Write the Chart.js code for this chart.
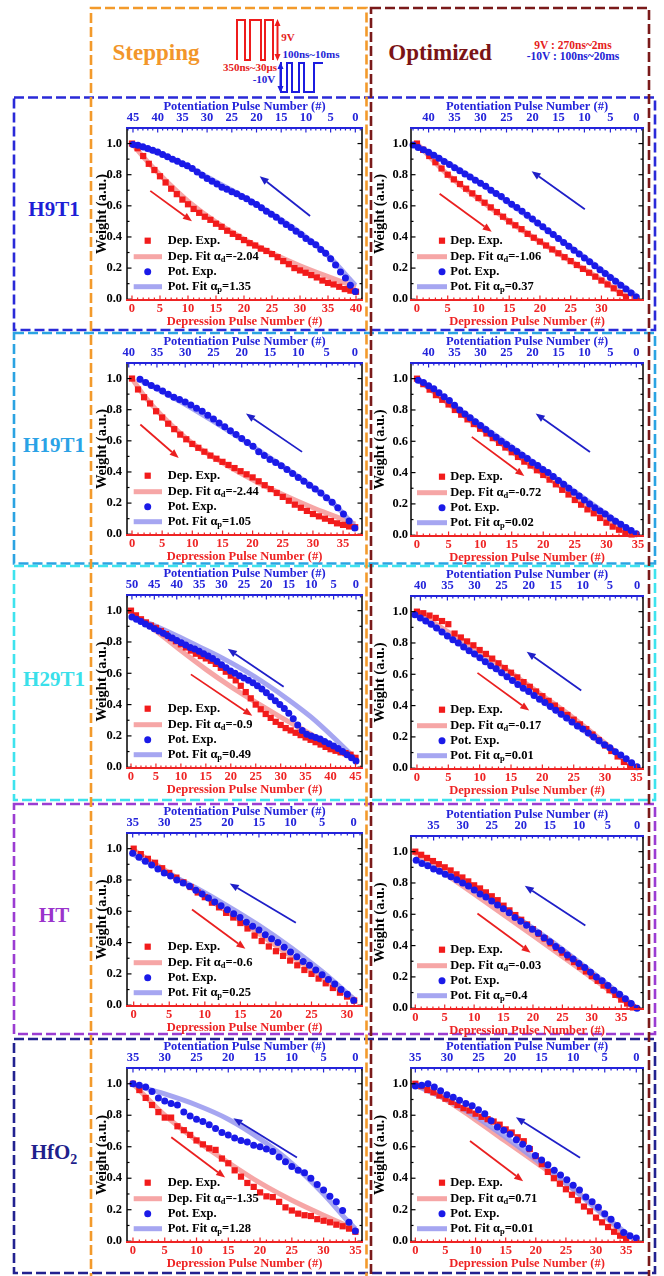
<!DOCTYPE html>
<html><head><meta charset="utf-8">
<script src="https://cdn.jsdelivr.net/npm/chart.js@4.4.0/dist/chart.umd.min.js"></script>
<style>
html,body{margin:0;padding:0;background:#fff;}
#page{position:relative;width:664px;height:1276px;overflow:hidden;background:#fff;font-family:'Liberation Serif','Times New Roman',serif;font-weight:bold;}
.t{position:absolute;transform:translate(-50%,-50%);white-space:nowrap;line-height:1;}
.cw{position:absolute;}
</style></head><body>
<div id="page">
<svg width="664" height="1276" style="position:absolute;left:0;top:0" fill="none">
 <g stroke-width="2.6" stroke-dasharray="10 4">
  <rect x="14" y="97.5" width="641" height="232.5" stroke="#2a2ad8"/>
  <rect x="14" y="333" width="641" height="230.5" stroke="#2ba3e2"/>
  <rect x="14" y="566" width="641" height="234" stroke="#3ee3ee"/>
  <rect x="14" y="804" width="641" height="230" stroke="#9b3cd2"/>
  <rect x="14" y="1039" width="641" height="234" stroke="#222290"/>
  <rect x="91" y="8" width="275.5" height="1300" stroke="#f39a2b"/>
  <rect x="371" y="8" width="278" height="1300" stroke="#7a1a1a"/>
 </g>
 <g stroke-width="2">
  <path d="M237,60 V20 H245 V60 H250 V20 H261 V60 H265 V20 H273 V60" stroke="#ee1c1c"/>
  <path d="M277.5,24 V56" stroke="#ee1c1c"/>
  <path d="M281,62 V92 H287 V63 H292 V92 H299 V63 H304 V92 H314 V63 H323" stroke="#1c1ce0"/>
  <path d="M280.5,67 V88" stroke="#1c1ce0"/>
 </g>
 <path d="M277.5,19 L274.5,26 L280.5,26 Z M277.5,61 L274.5,54 L280.5,54 Z" fill="#ee1c1c"/>
 <path d="M280.5,62 L277.5,69 L283.5,69 Z M280.5,93 L277.5,86 L283.5,86 Z" fill="#1c1ce0"/>
</svg>
<div class="t" style="left:156px;top:52px;font-size:23px;color:#f2962a">Stepping</div>
<div class="t" style="left:440px;top:52px;font-size:23px;color:#7b1416">Optimized</div>
<div class="t" style="left:573px;top:46px;font-size:11.5px;color:#e52020">9V : 270ns~2ms</div>
<div class="t" style="left:573px;top:57px;font-size:11.5px;color:#2323d5">-10V : 100ns~20ms</div>
<div class="t" style="left:288px;top:37px;font-size:11px;color:#e52020">9V</div>
<div class="t" style="left:311px;top:54px;font-size:11px;color:#2323d5">100ns~10ms</div>
<div class="t" style="left:250px;top:67px;font-size:11px;color:#e52020">350ns~30μs</div>
<div class="t" style="left:264px;top:79px;font-size:11px;color:#2323d5">-10V</div>
<div class="t" style="left:54px;top:209px;font-size:21px;color:#1e1ed6">H9T1</div>
<div class="t" style="left:54px;top:445px;font-size:21px;color:#2aa2e6">H19T1</div>
<div class="t" style="left:54px;top:679px;font-size:21px;color:#3ae0ea">H29T1</div>
<div class="t" style="left:54px;top:915px;font-size:21px;color:#9a33cc">HT</div>
<div class="t" style="left:54px;top:1152px;font-size:21px;color:#1f1f8c">HfO<span style="font-size:14px;position:relative;top:5px">2</span></div>
</div>
<script>
// ---------- tick label arrays ----------
const yTicks = [0, 0.2, 0.4, 0.6, 0.8, 1.0];
const ticksTo30 = [0, 5, 10, 15, 20, 25, 30];
const ticksTo35 = [0, 5, 10, 15, 20, 25, 30, 35];
const ticksTo40 = [0, 5, 10, 15, 20, 25, 30, 35, 40];
const ticksTo45 = [0, 5, 10, 15, 20, 25, 30, 35, 40, 45];
const ticksTo50 = [0, 5, 10, 15, 20, 25, 30, 35, 40, 45, 50];

// ---------- H9T1 ----------
const h9t1StepDep = [1.00,0.97,0.92,0.87,0.83,0.79,0.75,0.71,0.675,0.64,0.61,0.58,0.555,0.53,0.51,0.485,0.465,0.44,0.42,0.40,0.38,0.36,0.345,0.325,0.31,0.29,0.27,0.245,0.225,0.20,0.185,0.17,0.155,0.14,0.12,0.105,0.095,0.08,0.065,0.055,0.048];
const h9t1StepPot = [0.05,0.09,0.137,0.175,0.22,0.26,0.295,0.32,0.35,0.37,0.39,0.415,0.437,0.46,0.48,0.503,0.527,0.546,0.565,0.587,0.608,0.625,0.645,0.66,0.677,0.69,0.707,0.72,0.74,0.758,0.775,0.797,0.818,0.84,0.857,0.87,0.887,0.90,0.916,0.93,0.946,0.957,0.968,0.979,0.989,0.994];
const h9t1StepDepFit = [[0,1.0],[2,0.915],[5,0.80],[8,0.695],[10,0.63],[15,0.495],[20,0.385],[25,0.295],[30,0.215],[35,0.145],[38,0.105],[40,0.08]];
const h9t1StepPotFit = [[0,0.09],[2,0.16],[5,0.265],[10,0.40],[15,0.51],[20,0.61],[25,0.70],[30,0.785],[35,0.87],[40,0.94],[45,0.99]];
const h9t1StepArrows = [[3.27,0.696,10.71,0.501],[31.8,0.535,22.8,0.79]];
const h9t1StepAlpha = ['-2.04','1.35'];

const h9t1OptDep = [1.00,0.96,0.92,0.88,0.84,0.80,0.77,0.74,0.71,0.68,0.65,0.62,0.59,0.56,0.53,0.50,0.475,0.45,0.42,0.395,0.37,0.345,0.32,0.295,0.27,0.245,0.22,0.195,0.17,0.145,0.12,0.095,0.07,0.04,0.015];
const h9t1OptPot = [0.015,0.04,0.065,0.09,0.115,0.14,0.165,0.19,0.215,0.24,0.265,0.29,0.315,0.34,0.365,0.39,0.415,0.44,0.465,0.49,0.515,0.54,0.565,0.59,0.61,0.635,0.66,0.68,0.70,0.725,0.745,0.765,0.785,0.805,0.825,0.845,0.865,0.885,0.905,0.925,0.945,0.96,0.975,0.99];
const h9t1OptDepFit = [[0,1.0],[5,0.80],[10,0.645],[15,0.50],[20,0.37],[25,0.245],[30,0.125],[34,0.02]];
const h9t1OptPotFit = [[0,0.02],[5,0.145],[10,0.27],[15,0.39],[20,0.51],[25,0.63],[30,0.745],[35,0.85],[40,0.945],[43,0.99]];
const h9t1OptArrows = [[3.68,0.677,12.16,0.433],[27.3,0.578,18.65,0.822]];
const h9t1OptAlpha = ['-1.06','0.37'];

// ---------- H19T1 ----------
const h19t1StepDep = [1.00,0.93,0.88,0.84,0.79,0.75,0.71,0.675,0.64,0.61,0.58,0.555,0.53,0.505,0.485,0.465,0.445,0.425,0.405,0.385,0.365,0.34,0.315,0.29,0.265,0.24,0.215,0.19,0.17,0.15,0.13,0.115,0.10,0.085,0.07,0.06,0.05,0.045];
const h19t1StepPot = [0.04,0.085,0.13,0.17,0.205,0.235,0.265,0.29,0.315,0.34,0.365,0.39,0.415,0.44,0.46,0.48,0.505,0.53,0.565,0.59,0.615,0.64,0.665,0.69,0.715,0.74,0.765,0.79,0.81,0.83,0.85,0.865,0.88,0.90,0.92,0.94,0.955,0.975,0.995];
const h19t1StepDepFit = [[0,1.0],[2,0.89],[5,0.76],[10,0.585],[15,0.46],[20,0.35],[25,0.255],[30,0.17],[34,0.11],[37,0.065]];
const h19t1StepPotFit = [[0,0.05],[3,0.17],[5,0.235],[10,0.37],[15,0.49],[20,0.61],[25,0.725],[30,0.835],[35,0.935],[38,0.99]];
const h19t1StepArrows = [[1.38,0.705,7.74,0.49],[28.2,0.529,18.9,0.775]];
const h19t1StepAlpha = ['-2.44','1.05'];

const h19t1OptDep = [1.0,0.965,0.93,0.895,0.865,0.835,0.80,0.77,0.74,0.71,0.68,0.65,0.62,0.59,0.56,0.53,0.50,0.47,0.445,0.415,0.385,0.355,0.325,0.29,0.26,0.225,0.195,0.165,0.14,0.11,0.08,0.055,0.035,0.015,0.005];
const h19t1OptPot = [0.01,0.03,0.05,0.07,0.09,0.11,0.135,0.155,0.175,0.20,0.225,0.25,0.275,0.30,0.325,0.35,0.375,0.40,0.42,0.445,0.465,0.49,0.51,0.535,0.555,0.58,0.60,0.625,0.65,0.675,0.70,0.725,0.75,0.775,0.80,0.83,0.86,0.885,0.91,0.935,0.955,0.975,0.99];
const h19t1OptDepFit = [[0,1.0],[5,0.84],[10,0.685],[15,0.535],[20,0.39],[25,0.245],[30,0.105],[34,0.0]];
const h19t1OptPotFit = [[0,0.0],[10,0.235],[20,0.47],[30,0.705],[42,0.99]];
const h19t1OptArrows = [[8.68,0.628,17.0,0.379],[27.4,0.532,18.8,0.777]];
const h19t1OptAlpha = ['-0.72','0.02'];

// ---------- H29T1 ----------
const h29t1StepDep = [1.00,0.97,0.945,0.925,0.905,0.89,0.87,0.85,0.825,0.805,0.785,0.765,0.745,0.725,0.71,0.695,0.68,0.66,0.635,0.61,0.585,0.555,0.52,0.48,0.44,0.40,0.37,0.34,0.315,0.29,0.27,0.25,0.235,0.22,0.205,0.19,0.175,0.16,0.145,0.13,0.115,0.105,0.095,0.09,0.08,0.06];
const h29t1StepPot = [0.04,0.06,0.08,0.10,0.12,0.135,0.15,0.165,0.18,0.19,0.20,0.21,0.235,0.27,0.31,0.345,0.375,0.40,0.425,0.45,0.475,0.50,0.52,0.54,0.555,0.57,0.585,0.60,0.615,0.635,0.655,0.675,0.695,0.71,0.725,0.74,0.755,0.765,0.78,0.795,0.81,0.825,0.84,0.855,0.87,0.885,0.90,0.915,0.93,0.945,0.96];
const h29t1StepDepFit = [[0,0.98],[5,0.87],[10,0.745],[15,0.625],[20,0.515],[25,0.415],[30,0.32],[35,0.23],[40,0.14],[45,0.06]];
const h29t1StepPotFit = [[0,0.05],[5,0.19],[10,0.32],[15,0.43],[20,0.53],[25,0.62],[30,0.70],[35,0.77],[40,0.84],[45,0.905],[50,0.965]];
const h29t1StepArrows = [[12.0,0.593,24.3,0.328],[30.6,0.514,19.4,0.756]];
const h29t1StepAlpha = ['-0.9','0.49'];

const h29t1OptDep = [1.0,0.99,0.975,0.96,0.94,0.92,0.86,0.835,0.81,0.785,0.755,0.73,0.70,0.67,0.64,0.61,0.58,0.55,0.52,0.49,0.46,0.43,0.40,0.37,0.34,0.31,0.28,0.25,0.215,0.18,0.145,0.11,0.075,0.04,0.01];
const h29t1OptPot = [0.01,0.035,0.06,0.085,0.105,0.13,0.15,0.175,0.20,0.225,0.25,0.27,0.295,0.32,0.345,0.37,0.395,0.42,0.44,0.465,0.49,0.51,0.535,0.56,0.585,0.61,0.635,0.655,0.68,0.705,0.73,0.75,0.775,0.80,0.82,0.845,0.87,0.895,0.92,0.94,0.96,0.98];
const h29t1OptDepFit = [[0,1.0],[5,0.87],[10,0.745],[15,0.61],[20,0.465],[25,0.32],[30,0.16],[34,0.02]];
const h29t1OptPotFit = [[0,0.0],[10,0.245],[20,0.49],[30,0.73],[41,0.99]];
const h29t1OptArrows = [[9.65,0.609,17.9,0.368],[26.2,0.496,17.5,0.744]];
const h29t1OptAlpha = ['-0.17','0.01'];

// ---------- HT ----------
const htStepDep = [1.0,0.965,0.935,0.91,0.875,0.845,0.815,0.785,0.755,0.72,0.69,0.655,0.625,0.59,0.56,0.525,0.49,0.445,0.41,0.375,0.345,0.315,0.285,0.255,0.225,0.20,0.17,0.14,0.11,0.08,0.055,0.03];
const htStepPot = [0.03,0.07,0.10,0.135,0.165,0.195,0.225,0.255,0.28,0.31,0.34,0.37,0.40,0.425,0.45,0.48,0.505,0.53,0.56,0.585,0.61,0.635,0.66,0.685,0.71,0.735,0.76,0.78,0.80,0.825,0.845,0.87,0.895,0.92,0.945,0.97];
const htStepDepFit = [[0,0.99],[5,0.845],[10,0.695],[15,0.54],[20,0.38],[25,0.225],[31,0.04]];
const htStepPotFit = [[0,0.04],[5,0.215],[10,0.37],[15,0.51],[20,0.635],[25,0.75],[30,0.855],[35,0.965]];
const htStepArrows = [[8.2,0.612,15.7,0.360],[22.8,0.527,13.5,0.778]];
const htStepAlpha = ['-0.6','0.25'];

const htOptDep = [1.0,0.98,0.96,0.94,0.92,0.90,0.88,0.855,0.835,0.81,0.785,0.765,0.74,0.715,0.69,0.655,0.625,0.595,0.565,0.535,0.505,0.475,0.445,0.415,0.385,0.355,0.325,0.295,0.265,0.235,0.205,0.175,0.145,0.115,0.085,0.055,0.03,0.005];
const htOptPot = [0.0,0.03,0.06,0.09,0.115,0.145,0.175,0.20,0.23,0.26,0.285,0.315,0.34,0.37,0.395,0.425,0.45,0.48,0.505,0.53,0.555,0.58,0.61,0.635,0.66,0.685,0.71,0.73,0.755,0.78,0.80,0.82,0.84,0.855,0.875,0.89,0.91,0.925,0.945];
const htOptDepFit = [[0,0.99],[10,0.73],[20,0.465],[30,0.195],[37,0.005]];
const htOptPotFit = [[0,0.0],[5,0.15],[10,0.295],[15,0.435],[20,0.565],[25,0.685],[30,0.80],[35,0.895],[38,0.95]];
const htOptArrows = [[10.56,0.605,19.6,0.355],[28.9,0.528,18.6,0.782]];
const htOptAlpha = ['-0.03','0.4'];

// ---------- HfO2 ----------
const hfStepDep = [1.0,0.96,0.91,0.865,0.82,0.785,0.785,0.73,0.705,0.675,0.64,0.615,0.59,0.58,0.525,0.495,0.45,0.41,0.37,0.345,0.31,0.285,0.28,0.25,0.215,0.195,0.175,0.165,0.16,0.14,0.13,0.12,0.105,0.095,0.08,0.06];
const hfStepPot = [0.065,0.12,0.195,0.25,0.285,0.325,0.36,0.40,0.435,0.45,0.475,0.505,0.535,0.57,0.585,0.60,0.61,0.63,0.64,0.655,0.675,0.69,0.715,0.74,0.76,0.775,0.795,0.82,0.865,0.875,0.89,0.91,0.95,0.98,0.99,1.0];
const hfStepDepFit = [[0,1.0],[5,0.80],[10,0.64],[15,0.50],[20,0.37],[25,0.26],[30,0.165],[35,0.075]];
const hfStepPotFit = [[0,0.08],[1,0.12],[5,0.30],[10,0.495],[15,0.65],[20,0.775],[25,0.865],[30,0.935],[35,0.995]];
const hfStepArrows = [[6.03,0.66,14.5,0.404],[25.8,0.532,15.8,0.781]];
const hfStepAlpha = ['-1.35','1.28'];

const hfOptDep = [1.0,0.985,0.96,0.945,0.925,0.905,0.885,0.865,0.845,0.83,0.81,0.79,0.775,0.76,0.74,0.71,0.69,0.66,0.635,0.585,0.54,0.49,0.44,0.40,0.365,0.33,0.295,0.26,0.22,0.19,0.15,0.12,0.09,0.06,0.035,0.015];
const hfOptPot = [0.02,0.035,0.055,0.10,0.14,0.175,0.215,0.25,0.28,0.325,0.355,0.39,0.42,0.45,0.485,0.515,0.545,0.59,0.615,0.645,0.68,0.705,0.725,0.765,0.81,0.835,0.86,0.875,0.895,0.915,0.93,0.955,0.98,1.0,0.99,0.985];
const hfOptDepFit = [[0,1.0],[5,0.90],[10,0.77],[15,0.635],[20,0.50],[25,0.365],[30,0.215],[35,0.02]];
const hfOptPotFit = [[0,0.0],[5,0.16],[10,0.33],[15,0.49],[20,0.64],[25,0.78],[30,0.90],[35,0.99]];
const hfOptArrows = [[9.08,0.636,17.9,0.381],[27.35,0.53,16.7,0.787]];
const hfOptAlpha = ['0.71','0.01'];

// ---------- styles ----------
const FONT = "'Liberation Serif','Times New Roman',serif";
const RED = '#f21b1b';
const BLUE = '#1a1ae8';
const AX_RED = '#ee2424';
const AX_BLUE = '#2424da';
const FIT_RED = 'rgba(245,150,150,0.85)';
const FIT_BLUE = 'rgba(150,150,238,0.85)';
const ARROW_RED = '#ea2020';
const ARROW_BLUE = '#1f1fc8';
Chart.defaults.font.family = FONT;

const panels = [
 {col:'L', top:128, bottom:300, dep:h9t1StepDep, pot:h9t1StepPot, depFit:h9t1StepDepFit, potFit:h9t1StepPotFit, xr:[-0.89,41.07], x2r:[-1.35,46.21], xt:ticksTo40, x2t:ticksTo45, arrows:h9t1StepArrows, alpha:h9t1StepAlpha},
 {col:'R', top:128, bottom:300, dep:h9t1OptDep, pot:h9t1OptPot, depFit:h9t1OptDepFit, potFit:h9t1OptPotFit, xr:[-0.97,36.76], x2r:[-1.28,43.39], xt:ticksTo30, x2t:ticksTo40, arrows:h9t1OptArrows, alpha:h9t1OptAlpha},
 {col:'L', top:363, bottom:535, dep:h19t1StepDep, pot:h19t1StepPot, depFit:h19t1StepDepFit, potFit:h19t1StepPotFit, xr:[-0.83,38.14], x2r:[-1.28,40.3], xt:ticksTo35, x2t:ticksTo40, arrows:h19t1StepArrows, alpha:h19t1StepAlpha},
 {col:'R', top:363, bottom:536, dep:h19t1OptDep, pot:h19t1OptPot, depFit:h19t1OptDepFit, potFit:h19t1OptPotFit, xr:[-0.95,35.8], x2r:[-1.28,43.39], xt:ticksTo35, x2t:ticksTo40, arrows:h19t1OptArrows, alpha:h19t1OptAlpha},
 {col:'L', top:595, bottom:768, dep:h29t1StepDep, pot:h29t1StepPot, depFit:h29t1StepDepFit, potFit:h29t1StepPotFit, xr:[-0.8,46.3], x2r:[-1.34,51.1], xt:ticksTo45, x2t:ticksTo50, arrows:h29t1StepArrows, alpha:h29t1StepAlpha},
 {col:'R', top:596, bottom:769, dep:h29t1OptDep, pot:h29t1OptPot, depFit:h29t1OptDepFit, potFit:h29t1OptPotFit, xr:[-0.95,36.05], x2r:[-1.1,41.72], xt:ticksTo35, x2t:ticksTo40, arrows:h29t1OptArrows, alpha:h29t1OptAlpha},
 {col:'L', top:833, bottom:1006, dep:htStepDep, pot:htStepPot, depFit:htStepDepFit, potFit:htStepPotFit, xr:[-0.94,32.1], x2r:[-1.32,35.9], xt:ticksTo30, x2t:ticksTo35, arrows:htStepArrows, alpha:htStepAlpha},
 {col:'R', top:836, bottom:1009, dep:htOptDep, pot:htOptPot, depFit:htOptDepFit, potFit:htOptPotFit, xr:[-0.73,38.7], x2r:[-1.03,38.89], xt:ticksTo35, x2t:ticksTo35, arrows:htOptArrows, alpha:htOptAlpha},
 {col:'L', top:1068, bottom:1242, dep:hfStepDep, pot:hfStepPot, depFit:hfStepDepFit, potFit:hfStepPotFit, xr:[-0.94,36.04], x2r:[-1.05,35.94], xt:ticksTo35, x2t:ticksTo35, arrows:hfStepArrows, alpha:hfStepAlpha},
 {col:'R', top:1068, bottom:1242, dep:hfOptDep, pot:hfOptPot, depFit:hfOptDepFit, potFit:hfOptPotFit, xr:[-0.72,37.8], x2r:[-1.06,35.69], xt:ticksTo35, x2t:ticksTo35, arrows:hfOptArrows, alpha:hfOptAlpha}
];

function seg(ctx, x0, y0, x1, y1) { ctx.beginPath(); ctx.moveTo(x0, y0); ctx.lineTo(x1, y1); ctx.stroke(); }

function drawArrow(ctx, x0, y0, x1, y1, color) {
  const ang = Math.atan2(y1 - y0, x1 - x0);
  const hl = 9, hw = 3.6;
  const bx = x1 - hl * Math.cos(ang), by = y1 - hl * Math.sin(ang);
  ctx.strokeStyle = color; ctx.fillStyle = color; ctx.lineWidth = 1.8;
  seg(ctx, x0, y0, bx, by);
  ctx.beginPath();
  ctx.moveTo(x1, y1);
  ctx.lineTo(bx - hw * Math.sin(ang), by + hw * Math.cos(ang));
  ctx.lineTo(bx + hw * Math.sin(ang), by - hw * Math.cos(ang));
  ctx.closePath(); ctx.fill();
}

function drawRich(ctx, s, x, y) {
  ctx.fillStyle = '#000'; ctx.textBaseline = 'middle'; ctx.textAlign = 'left';
  const m = s.match(/^(.*?)_(\w)(.*)$/);
  ctx.font = 'bold 12.5px ' + FONT;
  if (!m) { ctx.fillText(s, x, y); return; }
  ctx.fillText(m[1], x, y);
  let w = ctx.measureText(m[1]).width;
  ctx.font = 'bold 8.5px ' + FONT;
  ctx.fillText(m[2], x + w, y + 3.5);
  w += ctx.measureText(m[2]).width;
  ctx.font = 'bold 12.5px ' + FONT;
  ctx.fillText(m[3], x + w, y);
}

const decorPlugin = {
  id: 'decor',
  afterDatasetsDraw(chart, args, o) {
    const {ctx, chartArea: a, scales} = chart;
    const x = scales.x, x2 = scales.x2, y = scales.y;
    ctx.save();
    o.arrows.forEach((ar, i) => {
      drawArrow(ctx, x.getPixelForValue(ar[0]), y.getPixelForValue(ar[1]),
                x.getPixelForValue(ar[2]), y.getPixelForValue(ar[3]), i === 0 ? ARROW_RED : ARROW_BLUE);
    });
    const L = o.col === 'L';
    const mx = a.left + (L ? 20.7 : 31);
    const lx0 = a.left + (L ? 6.7 : 6), lx1 = a.left + (L ? 35 : 36);
    const tx = a.left + (L ? 40.7 : 39.3);
    const rows = [-59.3, -43.3, -28.3, -13.3].map(d => a.bottom + d);
    const ds = chart.data.datasets;
    ctx.fillStyle = RED; ctx.fillRect(mx - 3.1, rows[0] - 3.1, 6.2, 6.2);
    drawRich(ctx, ds[0].label, tx, rows[0]);
    ctx.strokeStyle = FIT_RED; ctx.lineWidth = 5; seg(ctx, lx0, rows[1], lx1, rows[1]);
    drawRich(ctx, ds[1].label, tx, rows[1]);
    ctx.fillStyle = BLUE; ctx.beginPath(); ctx.arc(mx, rows[2], 3.5, 0, Math.PI * 2); ctx.fill();
    drawRich(ctx, ds[2].label, tx, rows[2]);
    ctx.strokeStyle = FIT_BLUE; ctx.lineWidth = 5; seg(ctx, lx0, rows[3], lx1, rows[3]);
    drawRich(ctx, ds[3].label, tx, rows[3]);
    ctx.lineWidth = 1.2;
    ctx.strokeStyle = AX_RED;
    for (let v = Math.ceil(x.min); v <= x.max; v++) {
      const px = x.getPixelForValue(v); const len = v % 5 === 0 ? 4.5 : 2.5;
      seg(ctx, px, a.bottom, px, a.bottom - len);
    }
    ctx.strokeStyle = AX_BLUE;
    for (let v = Math.ceil(x2.min); v <= x2.max; v++) {
      const px = x2.getPixelForValue(v); const len = v % 5 === 0 ? 4.5 : 2.5;
      seg(ctx, px, a.top, px, a.top + len);
    }
    ctx.strokeStyle = '#000';
    for (let k = 0; k <= 11; k++) {
      const py = y.getPixelForValue(k / 10); const len = k % 2 === 0 ? 4.5 : 2.5;
      seg(ctx, a.left, py, a.left + len, py);
      seg(ctx, a.right, py, a.right - len, py);
    }
    ctx.lineWidth = 1.5; ctx.strokeStyle = '#000';
    seg(ctx, a.left, a.top, a.left, a.bottom);
    seg(ctx, a.right, a.top, a.right, a.bottom);
    ctx.lineWidth = 2;
    ctx.strokeStyle = AX_BLUE; seg(ctx, a.left - 1, a.top, a.right + 1, a.top);
    ctx.strokeStyle = AX_RED; seg(ctx, a.left - 1, a.bottom, a.right + 1, a.bottom);
    ctx.restore();
  }
};

const page = document.getElementById('page');

function makePanel(p) {
  const colL = p.col === 'L';
  const frameLeft = colL ? 127 : 411;
  const frameW = colL ? 235 : 232;
  const yW = colL ? 35 : 39;
  const padR = 6, topH = 31, botH = 31;
  const frameH = p.bottom - p.top;
  const W = yW + frameW + padR, H = topH + frameH + botH;
  const wrap = document.createElement('div');
  wrap.className = 'cw';
  wrap.style.left = (frameLeft - yW) + 'px';
  wrap.style.top = (p.top - topH) + 'px';
  wrap.style.width = W + 'px';
  wrap.style.height = H + 'px';
  const cv = document.createElement('canvas');
  cv.width = W; cv.height = H;
  cv.style.width = W + 'px'; cv.style.height = H + 'px';
  wrap.appendChild(cv);
  page.appendChild(wrap);

  const tickFont = {family: FONT, size: 12.5, weight: 'bold'};
  const titleFont = {family: FONT, size: 12.5, weight: 'bold'};
  // reversed top axis: list ticks left-to-right (descending values)
  const x2Desc = p.x2t.slice().reverse();

  new Chart(cv, {
    type: 'scatter',
    data: {
      datasets: [
        {label: 'Dep. Exp.', data: p.dep.map((v, i) => ({x: i, y: v})), xAxisID: 'x', yAxisID: 'y',
         pointStyle: 'rect', pointRadius: 4.4, backgroundColor: RED, borderColor: RED, borderWidth: 0, showLine: false, order: 2, clip: false},
        {label: 'Dep. Fit α_d=' + p.alpha[0], data: p.depFit.map(q => ({x: q[0], y: q[1]})), xAxisID: 'x', yAxisID: 'y',
         showLine: true, pointRadius: 0, borderColor: FIT_RED, borderWidth: 5, tension: 0.4, cubicInterpolationMode: 'monotone', order: 4, clip: false},
        {label: 'Pot. Exp.', data: p.pot.map((v, i) => ({x: i, y: v})), xAxisID: 'x2', yAxisID: 'y',
         pointStyle: 'circle', pointRadius: 3.5, backgroundColor: BLUE, borderColor: BLUE, borderWidth: 0, showLine: false, order: 1, clip: false},
        {label: 'Pot. Fit α_p=' + p.alpha[1], data: p.potFit.map(q => ({x: q[0], y: q[1]})), xAxisID: 'x2', yAxisID: 'y',
         showLine: true, pointRadius: 0, borderColor: FIT_BLUE, borderWidth: 5, tension: 0.4, cubicInterpolationMode: 'monotone', order: 3, clip: false}
      ]
    },
    options: {
      responsive: false,
      animation: false,
      devicePixelRatio: 1,
      events: [],
      layout: {padding: {left: 0, right: padR, top: 0, bottom: 0}},
      plugins: {legend: {display: false}, tooltip: {enabled: false}, decor: {arrows: p.arrows, col: p.col}},
      scales: {
        x: {
          type: 'linear', position: 'bottom', min: p.xr[0], max: p.xr[1],
          afterBuildTicks: ax => { ax.ticks = p.xt.map(v => ({value: v})); },
          afterFit: ax => { ax.height = botH; },
          grid: {display: false, drawTicks: false}, border: {display: false},
          ticks: {color: AX_RED, font: tickFont, padding: 1.5, maxRotation: 0, minRotation: 0, autoSkip: false, callback: v => String(v)},
          title: {display: true, text: 'Depression Pulse Number (#)', color: AX_RED, font: titleFont, padding: {top: 0, bottom: 1.8}}
        },
        x2: {
          type: 'linear', position: 'top', reverse: true, min: p.x2r[0], max: p.x2r[1],
          afterBuildTicks: ax => { ax.ticks = x2Desc.map(v => ({value: v})); },
          afterFit: ax => { ax.height = topH; },
          grid: {display: false, drawTicks: false}, border: {display: false},
          ticks: {color: AX_BLUE, font: tickFont, padding: 3.1, maxRotation: 0, minRotation: 0, autoSkip: false, callback: v => String(v)},
          title: {display: true, text: 'Potentiation Pulse Number (#)', color: AX_BLUE, font: titleFont, padding: {top: 1.9, bottom: 0}}
        },
        y: {
          type: 'linear', position: 'left', min: -0.005, max: 1.1,
          afterBuildTicks: ax => { ax.ticks = yTicks.map(v => ({value: v})); },
          afterFit: ax => { ax.width = yW; },
          grid: {display: false, drawTicks: false}, border: {display: false},
          ticks: {color: '#000', font: tickFont, padding: colL ? 5 : 3, autoSkip: false, callback: v => Number(v).toFixed(1)},
          title: {display: true, text: 'Weight (a.u.)', color: '#000', font: {family: FONT, size: 14.5, weight: 'bold'}, padding: {top: colL ? 1.8 : 0, bottom: 0}}
        }
      }
    },
    plugins: [decorPlugin]
  });
}

panels.forEach(makePanel);
</script>
</body></html>
